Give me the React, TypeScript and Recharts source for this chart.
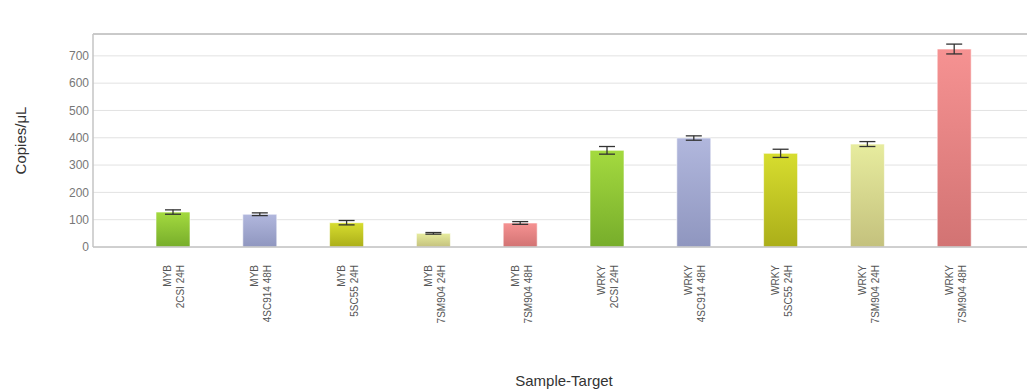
import { BarChart, Bar, XAxis, YAxis, CartesianGrid, ErrorBar, Cell, ReferenceLine } from 'recharts';

const targets = ['MYB', 'MYB', 'MYB', 'MYB', 'MYB', 'WRKY', 'WRKY', 'WRKY', 'WRKY', 'WRKY'];
const samples = [
  '2CSI 24H', '4SC914 48H', '5SC55 24H', '7SM904 24H', '7SM904 48H',
  '2CSI 24H', '4SC914 48H', '5SC55 24H', '7SM904 24H', '7SM904 48H',
];
const copies = [128, 120, 89, 50, 88, 354, 399, 343, 377, 725];
const errors = [8, 5, 8, 3, 5, 14, 8, 15, 9, 18];
const yTicks = [0, 100, 200, 300, 400, 500, 600, 700];
const Y_MAX = 780;

// one colour per sample, repeated for each target
const GRADS = [
  ['#a4da3f', '#77ad2b'],
  ['#b1b7dd', '#8f96bf'],
  ['#d7dd2f', '#abae19'],
  ['#e7ec9e', '#c4c17d'],
  ['#f69292', '#d27373'],
];

const data = copies.map((v, i) => ({
  key: `${targets[i]}|${samples[i]}`,
  value: v,
  err: errors[i],
}));

function SampleTick({ x, y, payload }: { x?: number; y?: number; payload?: { value: string } }) {
  const [t, s] = (payload?.value ?? '').split('|');
  return (
    <g transform={`translate(${x},${(y ?? 0) + 10}) rotate(-90)`}>
      <text textAnchor="end" fontSize={10} fill="#555">
        <tspan x={0} y={-2}>{t}</tspan>
        <tspan x={0} y={11}>{s}</tspan>
      </text>
    </g>
  );
}

function YTitle({ viewBox }: { viewBox?: { x: number; y: number; width: number; height: number } }) {
  const cy = viewBox ? viewBox.y + viewBox.height / 2 : 140;
  return (
    <text
      x={20}
      y={cy}
      transform={`rotate(-90, 20, ${cy})`}
      textAnchor="middle"
      dominantBaseline="central"
      fontSize={15}
      fill="#333"
    >
      Copies/μL
    </text>
  );
}

export default function App() {
  return (
    <div style={{ position: 'absolute', left: 0, top: 0, width: 1027, height: 389, overflow: 'hidden', background: '#fff', fontFamily: "'Liberation Sans', Arial, sans-serif" }}>
      <BarChart width={1040} height={389} data={data} margin={{ top: 34, right: 5, left: 0, bottom: 0 }}>
        <defs>
          {GRADS.map(([a, b], i) => (
            <linearGradient key={i} id={`g${i}`} x1="0" y1="0" x2="0" y2="1">
              <stop offset="0%" stopColor={a} />
              <stop offset="100%" stopColor={b} />
            </linearGradient>
          ))}
        </defs>
        <CartesianGrid vertical={false} stroke="#e2e2e2" />
        <ReferenceLine y={Y_MAX} stroke="#bdbdbd" strokeWidth={1.5} ifOverflow="extendDomain" />
        <XAxis
          dataKey="key"
          type="category"
          interval={0}
          height={142}
          padding={{ left: 37, right: 37 }}
          axisLine={{ stroke: '#c4c4c4', strokeWidth: 1.5 }}
          tickLine={false}
          tick={<SampleTick />}
          label={{ value: 'Sample-Target', position: 'insideBottom', offset: 3, fontSize: 15, fill: '#333' }}
        />
        <YAxis
          width={93}
          domain={[0, Y_MAX]}
          ticks={yTicks}
          interval={0}
          axisLine={{ stroke: '#c4c4c4', strokeWidth: 1.5 }}
          tickLine={false}
          tickSize={0}
          tickMargin={4}
          tick={{ fontSize: 12, fill: '#777' }}
          label={<YTitle />}
        />
        <Bar dataKey="value" barSize={34} stroke="rgba(255,255,255,0.6)" isAnimationActive={false}>
          {data.map((_, i) => (
            <Cell key={i} fill={`url(#g${i % GRADS.length})`} />
          ))}
          <ErrorBar dataKey="err" width={8} stroke="#333" strokeWidth={1.3} isAnimationActive={false} />
        </Bar>
      </BarChart>
    </div>
  );
}
